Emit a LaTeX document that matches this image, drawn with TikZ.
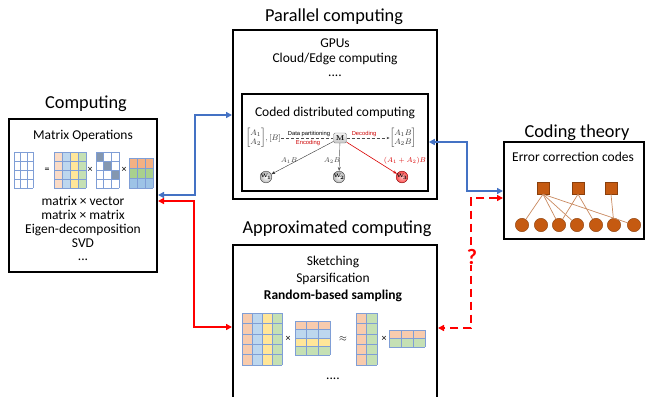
\documentclass[tikz,border=0pt]{standalone}
\usepackage{amsmath}
\usepackage[no-math]{fontspec}
\setmainfont{Carlito}
\newfontfamily\labelsans{Liberation Sans}
\usetikzlibrary{arrows.meta,shapes.geometric}

\definecolor{lineblue}{HTML}{4472C4}
\definecolor{gridblue}{HTML}{7F9ED6}
\definecolor{cOrange}{HTML}{F8CBAD}
\definecolor{cBlue}{HTML}{BDD7EE}
\definecolor{cYellow}{HTML}{FFE699}
\definecolor{cGreen}{HTML}{C5E0B4}
\definecolor{dOrange}{HTML}{F4B183}
\definecolor{dGreen}{HTML}{A9D18E}
\definecolor{dBlue}{HTML}{9DC3E6}
\definecolor{diagc}{HTML}{8497B0}
\definecolor{codebrown}{HTML}{C55A11}
\definecolor{codeedge}{HTML}{C98A60}
\definecolor{arrowred}{HTML}{FF0000}

% grid lines of a cols x rows matrix: x0, y0, cell width, cell height, cols, rows
\newcommand{\mgrid}[6]{%
  \foreach \gi in {0,...,#5} {\draw[gridline] ({#1+\gi*#3},#2) -- ++(0,{#6*#4});}
  \foreach \gj in {0,...,#6} {\draw[gridline] (#1,{#2+\gj*#4}) -- ++({#5*#3},0);}
}
% matrix with one colour per column
\newcommand{\mcols}[7]{%
  \foreach \gc [count=\gi from 0] in {#7} {\fill[\gc] ({#1+\gi*#3},#2) rectangle ++(#3,{#6*#4});}
  \mgrid{#1}{#2}{#3}{#4}{#5}{#6}}
% matrix with one colour per row
\newcommand{\mrows}[7]{%
  \foreach \gc [count=\gj from 0] in {#7} {\fill[\gc] (#1,{#2+\gj*#4}) rectangle ++({#5*#3},#4);}
  \mgrid{#1}{#2}{#3}{#4}{#5}{#6}}

\begin{document}
\begin{tikzpicture}[x=1pt,y=-1pt,
  title/.style={font=\fontsize{18.3}{22}\selectfont, inner sep=0pt, anchor=base},
  body/.style={font=\fontsize{13.5}{15}\selectfont, inner sep=0pt, anchor=base},
  frame/.style={draw=black, line width=2pt, inner sep=0pt},
  gridline/.style={draw=gridblue, line width=0.6pt},
  op/.style={font=\fontsize{10}{11}\selectfont, inner sep=0pt},
  conn/.style={line width=2pt},
  dbl/.style={arrows={Triangle[length=6pt,width=6pt]-Triangle[length=6pt,width=6pt]}},
  mnode/.style={draw=gray, rounded corners=1.5pt, top color=gray!10, bottom color=gray!45,
    minimum width=13pt, minimum height=10pt, inner sep=0pt, font=\fontsize{7}{8}\selectfont},
  vec/.style={text=gray!40!black, inner sep=0pt, font=\fontsize{8}{9}\selectfont},
  tag/.style={font=\labelsans\fontsize{5.8}{6}\selectfont, inner sep=0pt},
  wnode/.style={circle, draw=gray!50!black, minimum size=11.5pt, inner sep=0pt,
    font=\fontsize{5.5}{6}\selectfont},
  warrow/.style={thin, -{Stealth[length=4pt,width=3pt]}},
  mlabel/.style={font=\fontsize{7.5}{8}\selectfont, text=gray!50!black, inner sep=0pt},
  sq/.style={rectangle, fill=codebrown, draw=codebrown!70!black, line width=0.4pt,
    minimum size=12pt, inner sep=0pt},
  bit/.style={circle, fill=codebrown, draw=codebrown!70!black, line width=0.4pt,
    minimum size=13.4pt, inner sep=0pt},
  tanner/.style={draw=codeedge, line width=0.7pt}]
\useasboundingbox (0,0) rectangle (650,396);

% ---------- frames ----------
\node[frame, minimum width=148pt, minimum height=153pt] (compbox) at (83,195.5) {};
\node[frame, minimum width=204pt, minimum height=169pt] (parbox) at (335,114.5) {};
\node[frame, line width=1.6pt, minimum width=186pt, minimum height=97pt] (codedbox) at (335,142.5) {};
\node[frame, minimum width=140pt, minimum height=97pt] (codebox) at (574,190.5) {};
\node[frame, minimum width=204pt, minimum height=155pt] (approxbox) at (335,322.5) {};

% ---------- titles ----------
\node[title] (tcomp) at (86,108) {Computing};
\node[title] (tpar) at (334,21.5) {Parallel computing};
\node[title] (tcode) at (577,137.5) {Coding theory};
\node[title] (tappr) at (337,233) {Approximated computing};

% ---------- computing ----------
\node[body] (mo) at (83,139.5) {Matrix Operations};
\mgrid{14}{152}{6.4}{9}{3}{4}
\node[op] (eq) at (47,170) {=};
\mcols{54}{152}{8}{9}{4}{4}{cOrange!70,cBlue,cYellow,cGreen}
\node[op] (xa) at (90,170) {×};
\fill[diagc] (96,152) rectangle ++(7.7,9);
\fill[diagc] (103.7,161) rectangle ++(7.7,9);
\fill[diagc] (111.4,170) rectangle ++(7.7,9);
\mgrid{96}{152}{7.7}{9}{3}{4}
\node[op] (xb) at (124,170) {×};
\mrows{129}{158}{8}{10}{3}{3}{dOrange,dGreen,dBlue}
\node[body] (lv) at (83,205) {matrix × vector};
\node[body] (lm) at (83,219) {matrix × matrix};
\node[body] (le) at (83,233) {Eigen-decomposition};
\node[body] (ls) at (83,247) {SVD};
\node[body] (ld) at (83,260.5) {...};

% ---------- parallel computing ----------
\node[body] (gpu) at (335,47.5) {GPUs};
\node[body] (cloud) at (335,62.5) {Cloud/Edge computing};
\node[body] (pd) at (335,77) {....};
\node[body] (cdc) at (335,116.5) {Coded distributed computing};

\node[mnode] (M) at (340,138) {$\mathbf{M}$};
\node[vec, anchor=east] (vA) at (281,138) {$\begin{bmatrix}A_1\\A_2\end{bmatrix}\!,[B]$};
\node[vec] (vB) at (403,138) {$\begin{bmatrix}A_1B\\A_2B\end{bmatrix}$};
\draw[densely dashed, gray!60!black, thin] (vA.east) -- (M.west);
\draw[densely dashed, gray!60!black, thin, -{Stealth[length=3pt]}] (M.east) -- (vB.west);
\node[tag] (dp) at (309,133.5) {Data partitioning};
\node[tag, text=red!80!black] (enc) at (308,143) {Encoding};
\node[tag, text=red!80!black] (dec) at (364,133.5) {Decoding};

\node[wnode, inner color=white, outer color=gray!55] (W1) at (266,177) {$\mathbf{W}_{\!\mathbf{1}}$};
\node[wnode, inner color=white, outer color=gray!60] (W2) at (339,177) {$\mathbf{W}_{\!\mathbf{2}}$};
\node[wnode, draw=red!50!black, inner color=red!25, outer color=red!70] (W3) at (402,177) {$\mathbf{W}_{\!\mathbf{3}}$};
\draw[warrow, black!80] (M) -- (W1);
\draw[warrow, gray!70!black] (M) -- (W2);
\draw[warrow, red!85!black, semithick] (M) -- (W3);
\node[mlabel] (l1) at (289,161) {$A_1B$};
\node[mlabel] (l2) at (332,161) {$A_2B$};
\node[mlabel, text=red!85!black] (l3) at (405,161) {$(A_1+A_2)B$};

% ---------- coding theory ----------
\node[body] (ecc) at (573,161.5) {Error correction codes};
\node[sq] (s1) at (543,188) {};
\node[sq] (s2) at (578,188) {};
\node[sq] (s3) at (611,188) {};
\foreach \bx [count=\bi] in {522,541,559,577,596,614,634}
  \node[bit] (c\bi) at (\bx,225) {};
\draw[tanner] (s1.south) -- (c1);
\draw[tanner] (s1.south) -- (c3);
\draw[tanner] (s1.south) -- (c4);
\draw[tanner] (s1.south) -- (c7);
\draw[tanner] (s2.south) -- (c3);
\draw[tanner] (s2.south) -- (c5);
\draw[tanner] (s3.south) -- (c6);

% ---------- approximated computing ----------
\node[body] (sk) at (333,265.5) {Sketching};
\node[body] (sp) at (333,282) {Sparsification};
\node[body] (rb) at (333,299) {\textbf{Random-based sampling}};
\mcols{242}{313}{10}{10.4}{4}{5}{cOrange,cBlue,cYellow,cGreen}
\node[op] (xc) at (288,339) {×};
\mrows{295}{321}{11.7}{8.5}{3}{4}{cOrange,cBlue,cYellow,cGreen}
\node[op] (ap) at (343,339) {$\approx$};
\mcols{356}{313}{10.5}{10.4}{2}{5}{cOrange,cGreen}
\node[op] (xd) at (384,339) {×};
\mrows{389}{330}{12}{8.5}{3}{2}{cOrange,cGreen}
\node[body] (ad) at (333,379) {....};

% ---------- connectors ----------
\coordinate (bl1) at (195,195);
\coordinate (bl2) at (195,115);
\draw[conn, lineblue, dbl] (compbox.east |- bl1) -- (bl1) -- (bl2) -- (parbox.west |- bl2);
\coordinate (rl1) at (194,201);
\coordinate (rl2) at (194,327);
\draw[conn, arrowred, dbl] (compbox.east |- rl1) -- (rl1) -- (rl2) -- (approxbox.west |- rl2);
\coordinate (br1) at (467,142);
\coordinate (br2) at (467,191);
\draw[conn, lineblue, dbl] (codedbox.east |- br1) -- (br1) -- (br2) -- (codebox.west |- br2);
\coordinate (rr1) at (471,198);
\coordinate (rr2) at (471,328);
\draw[conn, arrowred, dbl, dash pattern=on 8pt off 5pt] (codebox.west |- rr1) -- (rr1) -- (rr2) -- (approxbox.east |- rr2);
\node[font=\bfseries\fontsize{22}{24}\selectfont, text=arrowred, inner sep=0pt, fill=white] (q) at (472,257) {?};
\end{tikzpicture}
\end{document}
